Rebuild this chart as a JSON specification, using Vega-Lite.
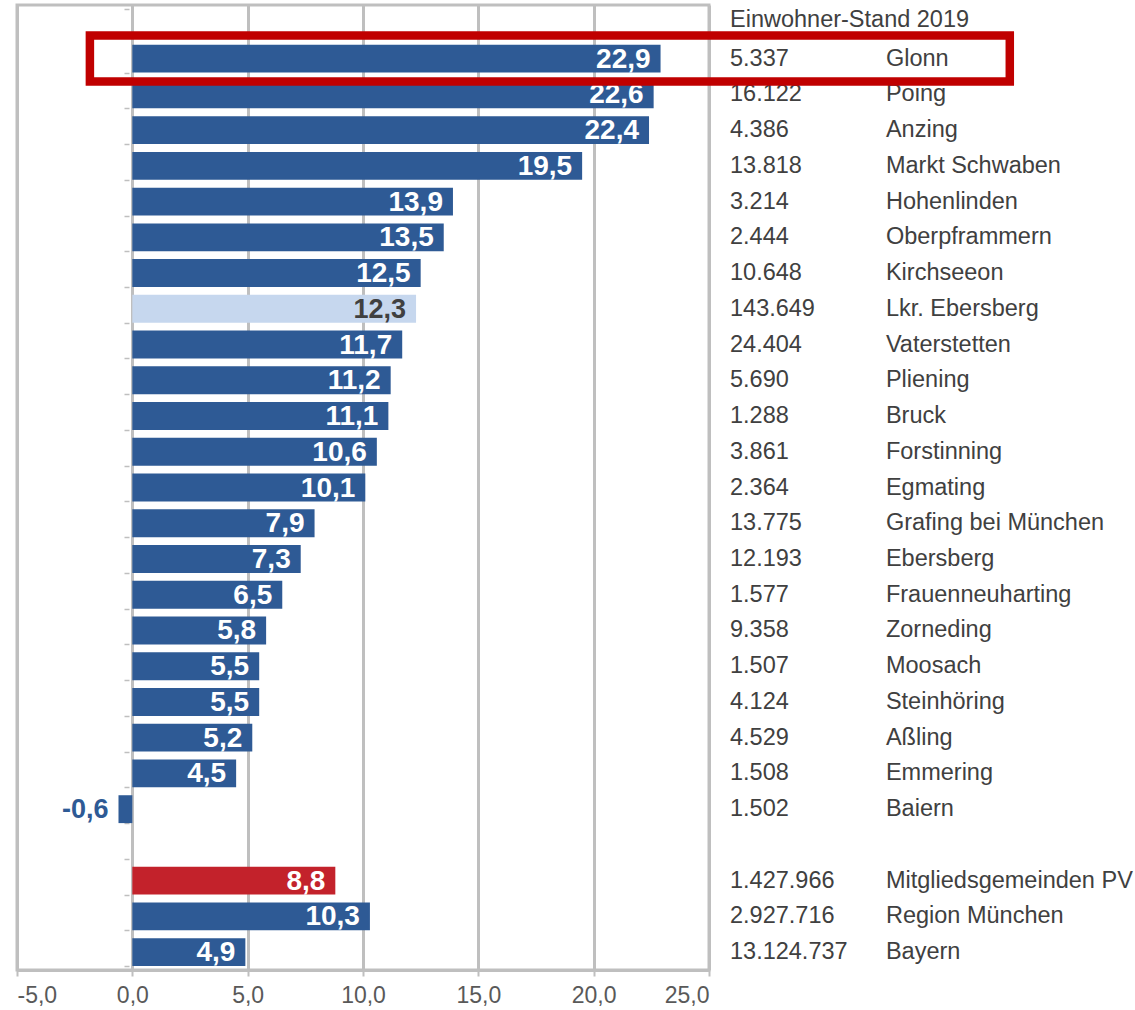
{
  "$schema": "https://vega.github.io/schema/vega-lite/v6.json",
  "width": 692,
  "height": 965,
  "autosize": {"type": "none"},
  "padding": {"left": 17, "top": 5, "right": 426, "bottom": 40},
  "background": "white",
  "config": {
    "locale": {"number": {"decimal": ",", "thousands": ".", "grouping": [3], "currency": ["", " €"], "minus": "-"}},
    "view": {"stroke": "#bfbfbf", "strokeWidth": 3},
    "font": "Liberation Sans, Arial, sans-serif"
  },
  "data": {
    "values": [
      {"name": "Glonn", "change": 22.9, "pop": 5337, "group": "gemeinde"},
      {"name": "Poing", "change": 22.6, "pop": 16122, "group": "gemeinde"},
      {"name": "Anzing", "change": 22.4, "pop": 4386, "group": "gemeinde"},
      {"name": "Markt Schwaben", "change": 19.5, "pop": 13818, "group": "gemeinde"},
      {"name": "Hohenlinden", "change": 13.9, "pop": 3214, "group": "gemeinde"},
      {"name": "Oberpframmern", "change": 13.5, "pop": 2444, "group": "gemeinde"},
      {"name": "Kirchseeon", "change": 12.5, "pop": 10648, "group": "gemeinde"},
      {"name": "Lkr. Ebersberg", "change": 12.3, "pop": 143649, "group": "landkreis"},
      {"name": "Vaterstetten", "change": 11.7, "pop": 24404, "group": "gemeinde"},
      {"name": "Pliening", "change": 11.2, "pop": 5690, "group": "gemeinde"},
      {"name": "Bruck", "change": 11.1, "pop": 1288, "group": "gemeinde"},
      {"name": "Forstinning", "change": 10.6, "pop": 3861, "group": "gemeinde"},
      {"name": "Egmating", "change": 10.1, "pop": 2364, "group": "gemeinde"},
      {"name": "Grafing bei München", "change": 7.9, "pop": 13775, "group": "gemeinde"},
      {"name": "Ebersberg", "change": 7.3, "pop": 12193, "group": "gemeinde"},
      {"name": "Frauenneuharting", "change": 6.5, "pop": 1577, "group": "gemeinde"},
      {"name": "Zorneding", "change": 5.8, "pop": 9358, "group": "gemeinde"},
      {"name": "Moosach", "change": 5.5, "pop": 1507, "group": "gemeinde"},
      {"name": "Steinhöring", "change": 5.5, "pop": 4124, "group": "gemeinde"},
      {"name": "Aßling", "change": 5.2, "pop": 4529, "group": "gemeinde"},
      {"name": "Emmering", "change": 4.5, "pop": 1508, "group": "gemeinde"},
      {"name": "Baiern", "change": -0.6, "pop": 1502, "group": "gemeinde"},
      {"name": "Mitgliedsgemeinden PV", "change": 8.8, "pop": 1427966, "group": "pv"},
      {"name": "Region München", "change": 10.3, "pop": 2927716, "group": "region"},
      {"name": "Bayern", "change": 4.9, "pop": 13124737, "group": "region"}
    ]
  },
  "encoding": {
    "y": {
      "field": "name",
      "type": "nominal",
      "scale": {
        "domain": ["_h", "Glonn", "Poing", "Anzing", "Markt Schwaben", "Hohenlinden", "Oberpframmern", "Kirchseeon", "Lkr. Ebersberg", "Vaterstetten", "Pliening", "Bruck", "Forstinning", "Egmating", "Grafing bei München", "Ebersberg", "Frauenneuharting", "Zorneding", "Moosach", "Steinhöring", "Aßling", "Emmering", "Baiern", "_g", "Mitgliedsgemeinden PV", "Region München", "Bayern"],
        "paddingInner": 0.22,
        "paddingOuter": 0.11
      },
      "axis": {"labels": false, "title": null, "domain": false, "ticks": true, "tickSize": 5, "tickColor": "#bfbfbf", "tickWidth": 1.5, "tickBand": "extent", "offset": -112, "grid": false}
    }
  },
  "layer": [
    {
      "mark": {"type": "bar"},
      "encoding": {
        "x": {
          "field": "change",
          "type": "quantitative",
          "scale": {"domain": [-5, 25], "nice": false, "zero": false},
          "axis": {"values": [-5, 0, 5, 10, 15, 20, 25], "format": ".1f", "title": null, "grid": true, "gridColor": "#bfbfbf", "gridWidth": 3, "domain": true, "domainColor": "#bfbfbf", "domainWidth": 3, "ticks": true, "tickColor": "#bfbfbf", "tickSize": 6, "tickWidth": 2, "labelFontSize": 23, "labelColor": "#595959", "labelPadding": 8}
        },
        "color": {
          "field": "group",
          "type": "nominal",
          "scale": {"domain": ["gemeinde", "landkreis", "pv", "region"], "range": ["#2e5a95", "#c6d7ee", "#c3222b", "#2e5a95"]},
          "legend": null
        }
      }
    },
    {
      "transform": [{"filter": "datum.change >= 0 && datum.group !== 'landkreis'"}],
      "mark": {"type": "text", "align": "right", "baseline": "middle", "dx": -10, "dy": 1, "fontSize": 28, "fontWeight": "bold", "color": "white"},
      "encoding": {
        "x": {"field": "change", "type": "quantitative"},
        "text": {"field": "change", "type": "quantitative", "format": ".1f"}
      }
    },
    {
      "transform": [{"filter": "datum.change < 0 || datum.group === 'landkreis'"}],
      "mark": {"type": "text", "align": "right", "baseline": "middle", "dx": -10, "dy": 1, "fontSize": 27, "fontWeight": 600},
      "encoding": {
        "x": {"field": "change", "type": "quantitative"},
        "text": {"field": "change", "type": "quantitative", "format": ".1f"},
        "color": {
          "condition": {"test": "datum.change < 0", "value": "#2e5a95"},
          "value": "#404040"
        }
      }
    },
    {
      "mark": {"type": "text", "align": "left", "baseline": "middle", "fontSize": 23.5, "color": "#404040"},
      "encoding": {
        "x": {"datum": 25.91, "type": "quantitative"},
        "text": {"field": "pop", "type": "quantitative", "format": ",d"}
      }
    },
    {
      "mark": {"type": "text", "align": "left", "baseline": "middle", "fontSize": 23.5, "color": "#404040"},
      "encoding": {
        "x": {"datum": 32.67, "type": "quantitative"},
        "text": {"field": "name", "type": "nominal"}
      }
    },
    {
      "data": {"values": [{"name": "_h", "label": "Einwohner-Stand 2019"}]},
      "mark": {"type": "text", "align": "left", "baseline": "middle", "dy": -3, "fontSize": 23.5, "color": "#404040"},
      "encoding": {
        "x": {"datum": 25.91, "type": "quantitative"},
        "text": {"field": "label", "type": "nominal"}
      }
    },
    {
      "transform": [{"filter": "datum.name === 'Glonn'"}],
      "mark": {"type": "bar", "filled": false, "color": "#c00000", "strokeWidth": 8.5, "height": {"band": 1.65}},
      "encoding": {
        "x": {"datum": -1.84, "type": "quantitative"},
        "x2": {"datum": 38.04}
      }
    }
  ]
}
